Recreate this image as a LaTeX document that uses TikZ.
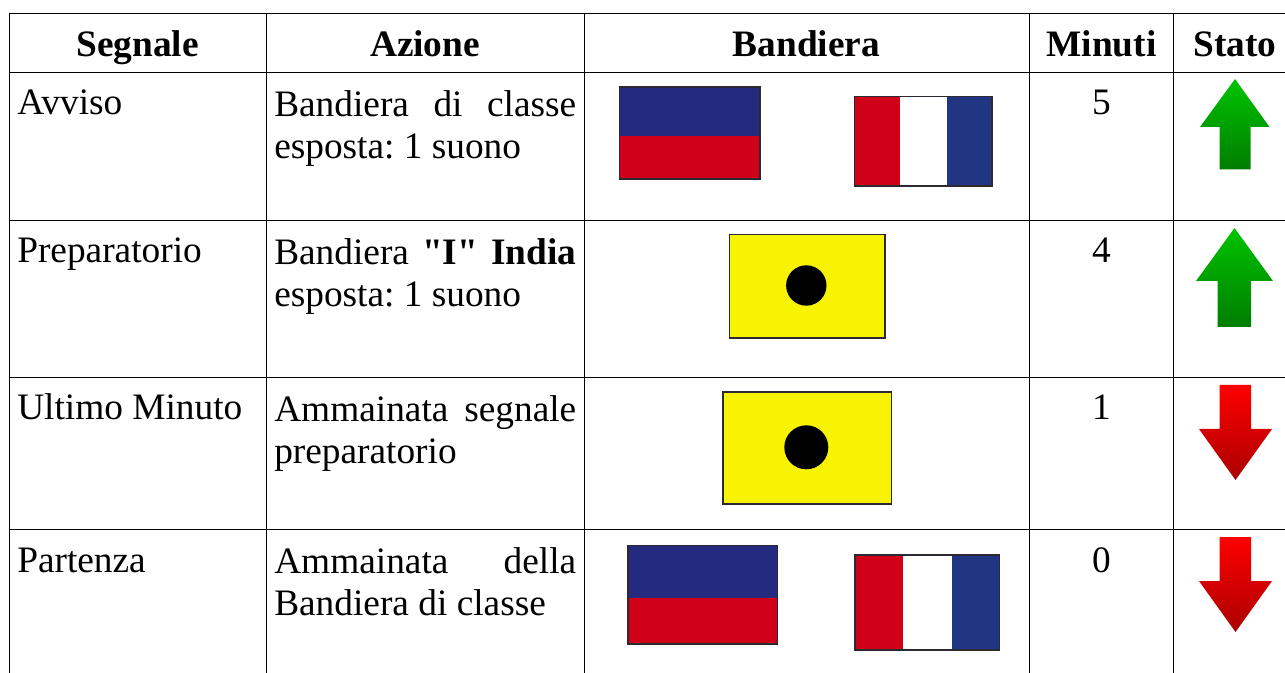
\documentclass[tikz,border=0pt]{standalone}
\usepackage{fontspec}
\setmainfont{Liberation Serif}[Ligatures=TeXOff]
\frenchspacing
\definecolor{flagblue}{RGB}{36,42,125}
\definecolor{flagblueb}{RGB}{33,54,130}
\definecolor{flagred}{RGB}{208,0,24}
\definecolor{flagyellow}{RGB}{248,243,0}
\definecolor{edgegrey}{RGB}{45,40,50}
\definecolor{greentop}{RGB}{0,195,0}
\definecolor{greenbot}{RGB}{0,125,0}
\definecolor{redtop}{RGB}{255,0,0}
\definecolor{redbot}{RGB}{170,0,0}
\newlength{\actw}
\setlength{\actw}{226.5pt}
\tikzset{
  x=0.75pt,y=-0.75pt,
  rule/.style={line width=1.6*0.75pt,black},
  cell/.style={font=\fontsize{28pt}{31.5pt}\selectfont\frenchspacing,inner sep=0pt,anchor=base,text=black},
  celll/.style={cell,anchor=base west},
  head/.style={cell,font=\fontsize{28pt}{31.5pt}\selectfont\bfseries},
  action/.style={font=\fontsize{28pt}{31.5pt}\selectfont\frenchspacing,inner sep=0pt,anchor=north west,text width=\actw,align=left,text=black,
    execute at begin node={\spaceskip=0pt\xspaceskip=0pt\relax}},
  flagedge/.style={draw=edgegrey,line width=1pt,fill=none},
  greenarrow/.style={top color=greentop,bottom color=greenbot,draw=none},
  redarrow/.style={top color=redtop,bottom color=redbot,draw=none}
}
\begin{document}
\begin{tikzpicture}
\useasboundingbox (0,0) rectangle (1285,673);
% table rules
\draw[rule] (9.5,13.5) -- (1285,13.5);
\draw[rule] (9.5,72.5) -- (1285,72.5);
\draw[rule] (9.5,220.5) -- (1285,220.5);
\draw[rule] (9.5,377.5) -- (1285,377.5);
\draw[rule] (9.5,529.5) -- (1285,529.5);
\draw[rule] (9.5,13.5) -- (9.5,673);
\draw[rule] (266.5,13.5) -- (266.5,673);
\draw[rule] (584.5,13.5) -- (584.5,673);
\draw[rule] (1029.5,13.5) -- (1029.5,673);
\draw[rule] (1173.5,13.5) -- (1173.5,673);
% header
\node[head] (h1) at (137.5,57) {Segnale};
\node[head] (h2) at (425,57) {Azione};
\node[head] (h3) at (806.5,57) {Bandiera};
\node[head] (h4) at (1101.5,57) {Minuti};
\node[head] (h5) at (1235,57) {Stato};
% first column
\node[celll] (s1) at (17,115) {Avviso};
\node[celll] (s2) at (17,263) {Preparatorio};
\node[celll] (s3) at (17,420) {Ultimo Minuto};
\node[celll] (s4) at (17,572) {Partenza};
% action column
\node[action] (a1) at (274,90) {\hbox to\actw{Bandiera\hfill di\hfill classe}\\esposta: 1 suono};
\node[action] (a2) at (274,238) {\hbox to\actw{Bandiera\hfill\textbf{"I"}\hfill\textbf{India}}\\esposta: 1 suono};
\node[action] (a3) at (274,395) {\hbox to\actw{Ammainata\hfill segnale}\\preparatorio};
\node[action] (a4) at (274,547) {\hbox to\actw{Ammainata\hfill della}\\Bandiera di classe};
% minutes
\node[cell] (m1) at (1101.5,115) {5};
\node[cell] (m2) at (1101.5,263) {4};
\node[cell] (m3) at (1101.5,420) {1};
\node[cell] (m4) at (1101.5,572) {0};
% row 1 flags
\fill[flagblue] (619.5,87) rectangle (760,136);
\fill[flagred] (619.5,136) rectangle (760,179);
\draw[flagedge] (619.5,87) rectangle (760,179);
\fill[flagred] (854.5,96.5) rectangle (900,186);
\fill[white] (900,96.5) rectangle (946.5,186);
\fill[flagblueb] (946.5,96.5) rectangle (992,186);
\draw[flagedge] (854.5,96.5) rectangle (992,186);
% row 2 flag
\fill[flagyellow] (729.5,234.5) rectangle (885,338);
\draw[flagedge] (729.5,234.5) rectangle (885,338);
\fill[black] (806.3,285.5) circle [radius=20.2];
% row 3 flag
\fill[flagyellow] (723,392) rectangle (891.5,504);
\draw[flagedge] (723,392) rectangle (891.5,504);
\fill[black] (806.3,447.3) circle [radius=22];
% row 4 flags
\fill[flagblue] (628,545.5) rectangle (777.5,598);
\fill[flagred] (628,598) rectangle (777.5,644);
\draw[flagedge] (628,545.5) rectangle (777.5,644);
\fill[flagred] (855,555) rectangle (903,650);
\fill[white] (903,555) rectangle (951.5,650);
\fill[flagblueb] (951.5,555) rectangle (999.5,650);
\draw[flagedge] (855,555) rectangle (999.5,650);
% arrows
\shade[greenarrow] (1235,79) -- (1269.5,127) -- (1250.5,127) -- (1250.5,169.5) -- (1219.5,169.5) -- (1219.5,127) -- (1200,127) -- cycle;
\shade[greenarrow] (1234.5,228) -- (1273,281) -- (1251,281) -- (1251,327) -- (1217.5,327) -- (1217.5,281) -- (1196,281) -- cycle;
\shade[redarrow] (1219.5,385) -- (1251,385) -- (1251,429) -- (1272,429) -- (1235.5,480) -- (1199,429) -- (1219.5,429) -- cycle;
\shade[redarrow] (1219.5,537) -- (1251,537) -- (1251,581) -- (1272,581) -- (1235.5,632) -- (1199,581) -- (1219.5,581) -- cycle;
\end{tikzpicture}
\end{document}
